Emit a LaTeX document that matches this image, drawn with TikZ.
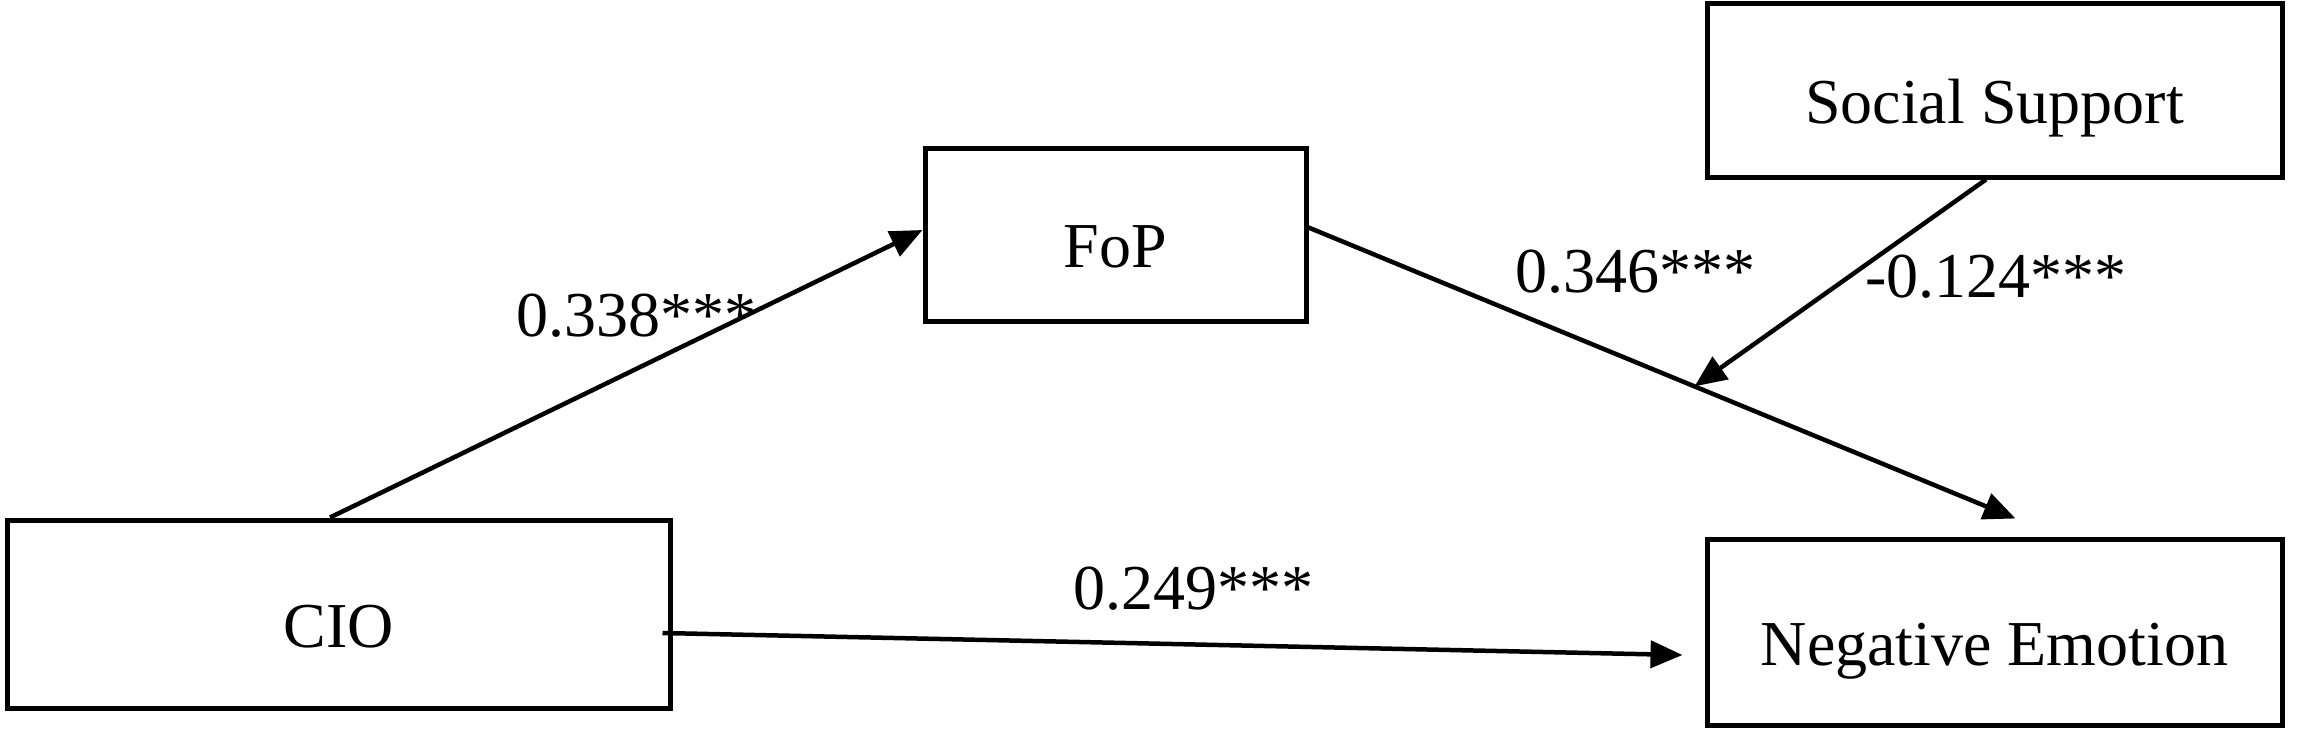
\documentclass[tikz,border=0pt]{standalone}
\usepackage{fontspec}
\setmainfont{Liberation Serif}
\usetikzlibrary{arrows.meta,calc}
\begin{document}
\begin{tikzpicture}[x=1pt,y=-1pt,
  box/.style={draw,line width=5pt,rectangle,inner sep=0pt,
    font=\fontsize{64}{70}\selectfont,text height=70pt,text depth=4pt},
  conn/.style={line width=4.5pt,-{Triangle[length=32pt,width=27pt]}},
  lab/.style={inner sep=0pt,anchor=base west,font=\fontsize{64}{70}\selectfont}]
\useasboundingbox (0,0) rectangle (2298,734);
\node[box,minimum width=663pt,minimum height=188pt] (cio) at (338.5,614) {CIO};
\node[box,minimum width=381pt,minimum height=173pt] (fop) at (1115.5,234.5) {FoP};
\node[box,minimum width=575pt,minimum height=174pt] (ss) at (1994.5,90) {Social Support};
\node[box,minimum width=575pt,minimum height=186pt] (ne) at (1994.5,632) {Negative Emotion};
% connectors
\coordinate (fopout) at ([yshift=7pt]fop.east);
\coordinate (netop) at ([xshift=21pt,yshift=18pt]ne.north);
\coordinate (mod) at ($(fopout)!0.546!(netop)$);
\draw[conn] ([xshift=-8.5pt]cio.north) -- ([yshift=4.5pt]fop.west);
\draw[conn] (fopout) -- (netop);
\draw[conn] ([xshift=-8.5pt]ss.south) -- (mod);
\draw[conn] ([xshift=-10pt,yshift=-19pt]cio.east) -- ([xshift=-22pt,yshift=-23pt]ne.west);
% labels
\node[lab] (l1) at (516,336) {0.338***};
\node[lab] (l2) at (1515,292) {0.346***};
\node[lab] (l3) at (1865,297) {-0.124***};
\node[lab] (l4) at (1073,609) {0.249***};
\end{tikzpicture}
\end{document}
